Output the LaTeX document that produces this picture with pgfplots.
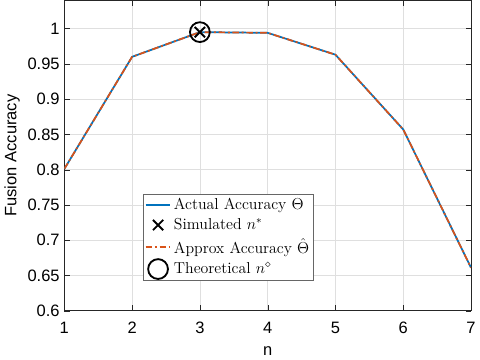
\documentclass[border=0pt]{standalone}
\usepackage{pgfplots}
\pgfplotsset{compat=1.18}
\usepackage{fontspec}
\newfontfamily\arialfont{Liberation Sans}
\definecolor{mblue}{rgb}{0,0.447,0.741}
\definecolor{morange}{rgb}{0.85,0.325,0.098}
\pgfplotsset{
  linelegend/.style={legend image code/.code={\draw[##1] (0cm,0cm) -- (0.66cm,0cm);}},
  marklegend/.style={legend image code/.code={\draw[##1] plot coordinates {(0.33cm,0cm)};}}}
\begin{document}
\begin{tikzpicture}
\begin{axis}[scale only axis,width=308pt,height=235pt,
  xmin=1,xmax=7,ymin=0.6,ymax=1.04,
  xtick={1,...,7},ytick={0.6,0.65,...,1.0},
  yticklabels={0.6,0.65,0.7,0.75,0.8,0.85,0.9,0.95,1},
  xlabel={\arialfont n},ylabel={\arialfont Fusion Accuracy},
  ticklabel style={font=\arialfont\fontsize{12.5}{14}\selectfont},
  label style={font=\fontsize{12.5}{14}\selectfont},
  /pgf/number format/assume math mode=true,
  grid=major,grid style={gray!25,line width=0.5pt},
  tick align=inside,major tick length=4pt,
  axis line style={line width=0.6pt,black!85},
  tick style={black!85},
  xticklabel style={yshift=-5pt},
  xlabel style={yshift=-3pt},ylabel style={yshift=-1pt},
  legend style={at={(0.194,0.375)},anchor=north west,
    font=\fontsize{12}{14}\selectfont,draw=black!60,
    inner sep=1pt,row sep=1pt},
  legend cell align=left]
  \addplot[mblue,line width=1.3pt,linelegend] coordinates {(1,0.801)(2,0.960)(3,0.995)(4,0.994)(5,0.963)(6,0.857)(7,0.661)};
  \addlegendentry{Actual Accuracy $\Theta$}
  \addplot[only marks,mark=x,mark size=5.5pt,black,line width=1.4pt,marklegend] coordinates {(3,0.995)};
  \addlegendentry{Simulated $n^{*}$}
  \addplot[morange,line width=1.3pt,dash pattern=on 5pt off 2pt on 1.5pt off 2pt,linelegend] coordinates {(1,0.801)(2,0.960)(3,0.995)(4,0.994)(5,0.963)(6,0.857)(7,0.661)};
  \addlegendentry{Approx Accuracy $\hat{\Theta}$}
  \addplot[only marks,mark=o,mark size=7.5pt,black,line width=1.4pt,marklegend] coordinates {(3,0.995)};
  \addlegendentry{Theoretical $n^{\diamond}$}
\end{axis}
\end{tikzpicture}
\end{document}
